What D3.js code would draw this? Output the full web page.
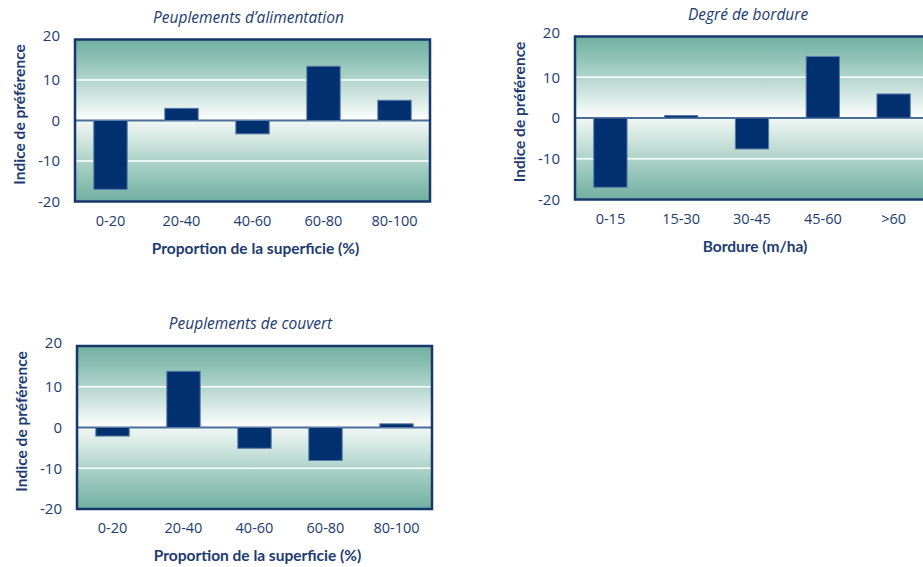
<!DOCTYPE html>
<html>
<head>
<meta charset="utf-8">
<script src="https://cdn.jsdelivr.net/npm/d3@7"></script>
<style>
  html, body { margin: 0; padding: 0; background: #fff; }
  svg { display: block; }
  text { font-family: "Open Sans", "Noto Sans", sans-serif; fill: #1d3b70; }
</style>
</head>
<body>
<svg id="chart" width="923" height="567"></svg>
<script>
// Preference index by class
const surfaceClasses = ["0-20", "20-40", "40-60", "60-80", "80-100"];
const bordureClasses = ["0-15", "15-30", "30-45", "45-60", ">60"];
const alimentationValues = [-17, 3, -3.3, 13.4, 5];
const bordureValues = [-17, 0.6, -7.6, 15.1, 5.9];
const couvertValues = [-2.1, 13.8, -5.1, -8.1, 0.9];
const yTicks = [-20, -10, 0, 10, 20];

const panelTitles = ["Peuplements d\u2019alimentation", "Degr\u00e9 de bordure", "Peuplements de couvert"];
const xTitles = ["Proportion de la superficie (%)", "Bordure (m/ha)", "Proportion de la superficie (%)"];
const yTitle = "Indice de pr\u00e9f\u00e9rence";

const svg = d3.select("#chart");
const defs = svg.append("defs");

// Plot background: teal at the edges fading to white along the zero line
const grad = defs.append("linearGradient")
  .attr("id", "bg").attr("x1", 0).attr("y1", 0).attr("x2", 0).attr("y2", 1);
[[0, "#70b0a0"], [0.12, "#8cc0b3"], [0.49, "#fbfdfc"], [0.51, "#eef6f2"], [0.88, "#8cc0b3"], [1, "#70b0a0"]]
  .forEach(([o, c]) => grad.append("stop").attr("offset", o).attr("stop-color", c));

const boldFont = "Lato, 'Open Sans', sans-serif";

function panel(cfg) {
  const { x0, x1, y0, y1, cats, vals, title, xTitle } = cfg;
  const g = svg.append("g");

  const x = d3.scaleBand().domain(cats).range([x0, x1]).paddingInner(0.53).paddingOuter(0.265);
  const y = d3.scaleLinear().domain([-20, 20]).range([y1, y0]);

  g.append("rect")
    .attr("x", x0).attr("y", y0).attr("width", x1 - x0).attr("height", y1 - y0)
    .attr("fill", "url(#bg)");

  // white gridlines at ±10
  g.selectAll("line.grid").data([-10, 10]).join("line")
    .attr("x1", x0).attr("x2", x1)
    .attr("y1", d => y(d)).attr("y2", d => y(d))
    .attr("stroke", "#ffffff").attr("stroke-width", 1.6);

  // zero line
  g.append("line")
    .attr("x1", x0).attr("x2", x1).attr("y1", y(0)).attr("y2", y(0))
    .attr("stroke", "#4a6c9c").attr("stroke-width", 2);

  // bars
  g.selectAll("rect.bar").data(vals).join("rect")
    .attr("x", (d, i) => x(cats[i]))
    .attr("width", x.bandwidth())
    .attr("y", d => y(Math.max(0, d)))
    .attr("height", d => Math.abs(y(d) - y(0)))
    .attr("fill", "#00306f")
    .attr("stroke", "#5a7aa6").attr("stroke-width", 1);

  // frame
  g.append("rect")
    .attr("x", x0).attr("y", y0).attr("width", x1 - x0).attr("height", y1 - y0)
    .attr("fill", "none").attr("stroke", "#16376b").attr("stroke-width", 2.5);

  // y tick labels (plain hyphen for negatives)
  const yAxis = d3.axisLeft(y).tickValues(yTicks).tickFormat(d => String(d)).tickSize(0).tickPadding(15);
  const ya = g.append("g").attr("transform", `translate(${x0},0)`).call(yAxis);
  ya.select(".domain").remove();
  ya.selectAll("text").attr("font-size", 15).attr("fill", "#1d3b70")
    .style("font-family", "'Open Sans', sans-serif");
  ya.selectAll(".tick").filter(d => d === 20).attr("transform", `translate(0,${y(20) - 3})`);

  // x tick labels
  const xAxis = d3.axisBottom(x).tickSize(0).tickPadding(14);
  const xa = g.append("g").attr("transform", `translate(0,${y1})`).call(xAxis);
  xa.select(".domain").remove();
  xa.selectAll("text").attr("font-size", 14.5).attr("fill", "#1d3b70")
    .style("font-family", "'Open Sans', sans-serif");

  // titles
  g.append("text")
    .attr("x", (x0 + x1) / 2 - 4).attr("y", y0 - 17)
    .attr("text-anchor", "middle").attr("font-size", 15.5).attr("font-style", "italic")
    .text(title);

  g.append("text")
    .attr("x", (x0 + x1) / 2 + 3).attr("y", y1 + 52)
    .attr("text-anchor", "middle").attr("font-size", 15.5).attr("font-weight", "bold")
    .style("font-family", boldFont)
    .text(xTitle);

  g.append("text")
    .attr("transform", `translate(${x0 - 50},${(y0 + y1) / 2 - 6}) rotate(-90)`)
    .attr("text-anchor", "middle").attr("font-size", 15.5).attr("font-weight", "bold")
    .style("font-family", boldFont)
    .text(yTitle);
}

panel({ x0: 75, x1: 430, y0: 39.5, y1: 201.5, cats: surfaceClasses, vals: alimentationValues,
        title: panelTitles[0], xTitle: xTitles[0] });
panel({ x0: 575, x1: 929, y0: 36.5, y1: 199.5, cats: bordureClasses, vals: bordureValues,
        title: panelTitles[1], xTitle: xTitles[1] });
panel({ x0: 77, x1: 432, y0: 346, y1: 509, cats: surfaceClasses, vals: couvertValues,
        title: panelTitles[2], xTitle: xTitles[2] });
</script>
</body>
</html>
